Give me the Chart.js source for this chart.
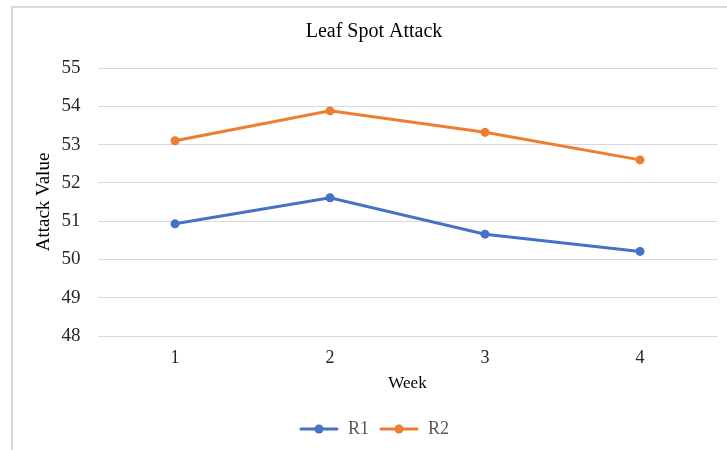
<!DOCTYPE html>
<html>
<head>
<meta charset="utf-8">
<script src="https://cdn.jsdelivr.net/npm/chart.js@4.4.1/dist/chart.umd.min.js"></script>
<style>
  html, body { margin: 0; padding: 0; background: #ffffff; }
  #wrap { position: relative; width: 727px; height: 450px; overflow: hidden; }
  #frame { position: absolute; left: 11px; top: 6px; width: 800px; height: 500px;
           border-left: 2px solid #d9d9d9; border-top: 2px solid #d9d9d9; }
  canvas { position: absolute; left: 0; top: 0; }
</style>
</head>
<body>
<div id="wrap">
  <div id="frame"></div>
  <canvas id="c" width="727" height="450"></canvas>
</div>
<script>
const weeks = ['1', '2', '3', '4'];
const r1Values = [50.93, 51.61, 50.66, 50.21];
const r2Values = [53.10, 53.88, 53.32, 52.60];
const seriesNames = ['R1', 'R2'];
const chartTitle = 'Leaf Spot Attack';
const xTitle = 'Week';
const yTitle = 'Attack Value';

const BLUE = '#4472C4';
const ORANGE = '#ED7D31';
const SERIF = "'Liberation Serif', 'Times New Roman', serif";
const TICK = '#262626';

function legendIcon(color) {
  const cv = document.createElement('canvas');
  cv.width = 40; cv.height = 12;
  const g = cv.getContext('2d');
  g.strokeStyle = color; g.lineWidth = 3; g.lineCap = 'round';
  g.beginPath(); g.moveTo(2, 6); g.lineTo(38, 6); g.stroke();
  g.fillStyle = color;
  g.beginPath(); g.arc(20, 6, 4.5, 0, Math.PI * 2); g.fill();
  return cv;
}
const icons = [legendIcon(BLUE), legendIcon(ORANGE)];

new Chart(document.getElementById('c'), {
  type: 'line',
  data: {
    labels: weeks,
    datasets: [
      { label: seriesNames[0], data: r1Values, borderColor: BLUE, backgroundColor: BLUE,
        borderWidth: 3, pointRadius: 4.5, pointBackgroundColor: BLUE, pointBorderWidth: 0, tension: 0 },
      { label: seriesNames[1], data: r2Values, borderColor: ORANGE, backgroundColor: ORANGE,
        borderWidth: 3, pointRadius: 4.5, pointBackgroundColor: ORANGE, pointBorderWidth: 0, tension: 0 }
    ]
  },
  options: {
    responsive: false,
    animation: false,
    layout: { padding: { left: 21, right: 0, top: 0, bottom: 2 } },
    plugins: {
      title: {
        display: true, text: chartTitle, color: '#000000',
        font: { family: SERIF, size: 20, weight: 'normal' },
        padding: { top: 20, bottom: 24 }
      },
      legend: {
        position: 'bottom',
        labels: {
          color: '#595959',
          font: { family: SERIF, size: 18 },
          usePointStyle: true,
          pointStyleWidth: 40,
          boxHeight: 12,
          padding: 10,
          generateLabels(chart) {
            return chart.data.datasets.map((ds, i) => ({
              text: ds.label, fillStyle: ds.borderColor, strokeStyle: ds.borderColor,
              lineWidth: 0, pointStyle: icons[i], datasetIndex: i, hidden: false,
              fontColor: '#595959'
            }));
          }
        }
      },
      tooltip: { enabled: false }
    },
    scales: {
      x: {
        offset: true,
        grid: { display: false },
        border: { display: false },
        ticks: { color: TICK, font: { family: SERIF, size: 18 }, padding: 3 },
        title: { display: true, text: xTitle, color: '#000000',
                 font: { family: SERIF, size: 17 }, padding: { top: 4, bottom: 16 } },
        afterFit(s) { s.height = 74; }
      },
      y: {
        min: 48, max: 55,
        grid: { color: '#d9d9d9', lineWidth: 1, drawTicks: false },
        border: { display: false },
        ticks: { stepSize: 1, color: TICK, font: { family: SERIF, size: 19 }, padding: 17 },
        title: { display: true, text: yTitle, color: '#000000',
                 font: { family: SERIF, size: 19 }, padding: { top: 12, bottom: 0 } },
        afterFit(s) { s.width = 76.5; }
      },
      yr: {
        position: 'right',
        display: true,
        grid: { display: false },
        border: { display: false },
        ticks: { display: false },
        afterFit(s) { s.width = 9.5; }
      }
    }
  }
});
</script>
</body>
</html>
